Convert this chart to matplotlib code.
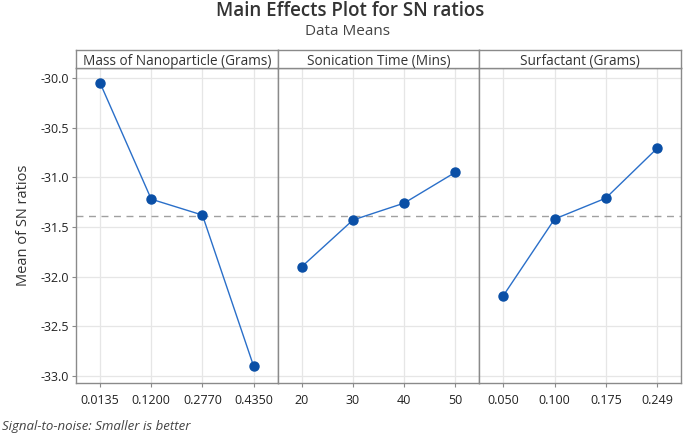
import matplotlib.pyplot as plt
import numpy as np

plt.rcParams['font.family'] = ['Open Sans', 'DejaVu Sans']

# factor names and levels
factors = ["Mass of Nanoparticle (Grams)", "Sonication Time (Mins)", "Surfactant (Grams)"]
mass_levels = ["0.0135", "0.1200", "0.2770", "0.4350"]
time_levels = ["20", "30", "40", "50"]
surf_levels = ["0.050", "0.100", "0.175", "0.249"]

# mean SN ratio for each level
mass_sn = [-30.05, -31.22, -31.38, -32.90]
time_sn = [-31.90, -31.43, -31.26, -30.95]
surf_sn = [-32.19, -31.42, -31.21, -30.71]

yticks = [-30.0, -30.5, -31.0, -31.5, -32.0, -32.5, -33.0]

levels = [mass_levels, time_levels, surf_levels]
values = [mass_sn, time_sn, surf_sn]
grand_mean = np.mean(mass_sn + time_sn + surf_sn)

edge = "#8a8a8a"
fig = plt.figure(figsize=(6.85, 4.4), dpi=100)

left = 76 / 685
right = 681 / 685
w = (right - left) / 3
bot = 1 - 383 / 440
top = 1 - 68 / 440
htop = 1 - 50 / 440

for i in range(3):
    ax = fig.add_axes([left + i * w, bot, w, top - bot])
    x = np.arange(len(levels[i]))
    ax.grid(True, color="#e6e6e6", lw=0.9)
    ax.set_axisbelow(True)
    ax.axhline(grand_mean, color="#a0a0a0", ls=(0, (5, 4)), lw=1, zorder=1)
    ax.plot(x, values[i], color="#2a6fc9", lw=1.0, zorder=2)
    ax.plot(x, values[i], "o", color="#0a4fa6", ms=6.5, zorder=3)
    ax.set_xlim(-0.47, 3.47)
    ax.set_ylim(-33.07, -29.9)
    ax.set_xticks(x)
    ax.set_xticklabels(levels[i], fontsize=9, color="#222222")
    ax.set_yticks(yticks)
    ax.tick_params(axis="x", length=3, color=edge, pad=5)
    if i == 0:
        ax.set_yticklabels(["%.1f" % t for t in yticks], fontsize=9, color="#222222")
        ax.tick_params(axis="y", length=3, color=edge, pad=2)
        ax.set_ylabel("Mean of SN ratios", fontsize=10.5, color="#333333", labelpad=7)
    else:
        ax.tick_params(axis="y", length=0, labelleft=False)
    for s in ax.spines.values():
        s.set_color(edge)
        s.set_linewidth(1.0)

    # header strip
    hx = fig.add_axes([left + i * w, top, w, htop - top])
    hx.set_xticks([])
    hx.set_yticks([])
    for s in hx.spines.values():
        s.set_color(edge)
        s.set_linewidth(1.0)
    hx.text(0.5, 0.36, factors[i], ha="center", va="center", fontsize=9.8, color="#333333",
            transform=hx.transAxes)

fig.text(0.511, 0.976, "Main Effects Plot for SN ratios", ha="center", va="center",
         fontsize=13.5, fontweight=600, color="#333333")
fig.text(0.508, 0.928, "Data Means", ha="center", va="center", fontsize=11, color="#444444")
fig.text(0.003, 0.03, "Signal-to-noise: Smaller is better", ha="left", va="center",
         fontsize=9.5, style="italic", color="#444444")

fig.savefig("out.png", dpi=100)
